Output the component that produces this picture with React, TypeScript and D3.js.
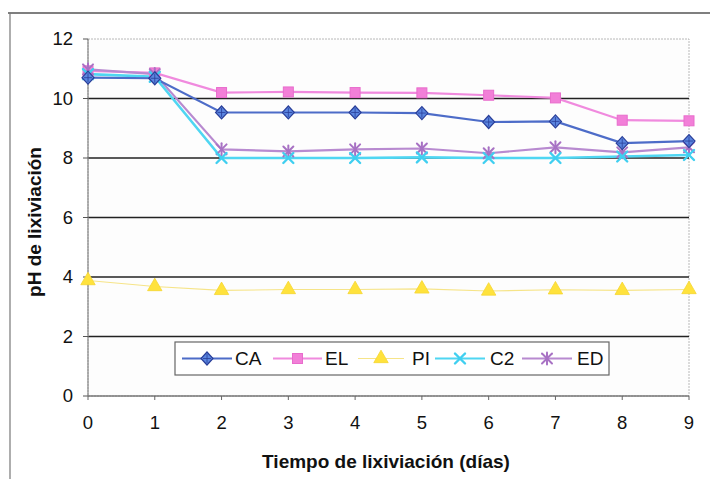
import React from "react";
import * as d3 from "d3";

// Leaching days on the x axis
const days = [0, 1, 2, 3, 4, 5, 6, 7, 8, 9];

// pH of the leachate for each material
const seriesCA = [10.7, 10.68, 9.53, 9.53, 9.53, 9.51, 9.21, 9.23, 8.5, 8.57];
const seriesEL = [10.93, 10.86, 10.2, 10.22, 10.2, 10.19, 10.11, 10.02, 9.27, 9.25];
const seriesPI = [3.88, 3.68, 3.55, 3.58, 3.58, 3.6, 3.53, 3.57, 3.55, 3.58];
const seriesC2 = [10.82, 10.73, 8.0, 8.0, 8.0, 8.02, 8.0, 8.0, 8.05, 8.1];
const seriesED = [10.98, 10.82, 8.29, 8.22, 8.29, 8.32, 8.16, 8.36, 8.19, 8.36];

const seriesNames = ["CA", "EL", "PI", "C2", "ED"];
const yTicks = [0, 2, 4, 6, 8, 10, 12];

const W = 710;
const H = 479;
const plot = { left: 88, right: 689, top: 39, bottom: 396 };

type Style = {
  line: string;
  lineWidth: number;
  marker: "diamond" | "square" | "triangle" | "x" | "star";
  fill: string;
  stroke: string;
};

const styles: Record<string, Style> = {
  CA: { line: "#4d6cc8", lineWidth: 2.2, marker: "diamond", fill: "#5b86e0", stroke: "#2a3f99" },
  EL: { line: "#f08ade", lineWidth: 2.2, marker: "square", fill: "#f27fd8", stroke: "#e86ccc" },
  PI: { line: "#f6e488", lineWidth: 1.1, marker: "triangle", fill: "#ffe23c", stroke: "#f5d630" },
  C2: { line: "#4fd6f2", lineWidth: 2.6, marker: "x", fill: "none", stroke: "#40cff0" },
  ED: { line: "#b88ad0", lineWidth: 2.2, marker: "star", fill: "none", stroke: "#a872c4" },
};

const data: Record<string, number[]> = {
  CA: seriesCA,
  EL: seriesEL,
  PI: seriesPI,
  C2: seriesC2,
  ED: seriesED,
};

function Marker({ kind, x, y, st }: { kind: Style["marker"]; x: number; y: number; st: Style }) {
  if (kind === "diamond") {
    return (
      <g>
        <path
          d={`M${x},${y - 6.5} L${x + 6},${y} L${x},${y + 6.5} L${x - 6},${y} Z`}
          fill={st.fill}
          stroke={st.stroke}
          strokeWidth={1.2}
        />
        <line x1={x - 4} x2={x + 4} y1={y} y2={y} stroke={st.stroke} strokeWidth={0.8} />
        <line x1={x} x2={x} y1={y - 4.5} y2={y + 4.5} stroke={st.stroke} strokeWidth={0.8} />
      </g>
    );
  }
  if (kind === "square") {
    return <rect x={x - 5} y={y - 5} width={10} height={10} fill={st.fill} stroke={st.stroke} strokeWidth={1} />;
  }
  if (kind === "triangle") {
    const p = d3.symbol().type(d3.symbolTriangle).size(90)();
    return <path d={p ?? ""} transform={`translate(${x},${y})`} fill={st.fill} stroke={st.stroke} strokeWidth={0.8} />;
  }
  if (kind === "x") {
    const r = 5;
    return (
      <g stroke={st.stroke} strokeWidth={2.4} strokeLinecap="round">
        <line x1={x - r} y1={y - r} x2={x + r} y2={y + r} />
        <line x1={x - r} y1={y + r} x2={x + r} y2={y - r} />
      </g>
    );
  }
  const r = 5;
  return (
    <g stroke={st.stroke} strokeWidth={2} strokeLinecap="round">
      <line x1={x - r} y1={y - r} x2={x + r} y2={y + r} />
      <line x1={x - r} y1={y + r} x2={x + r} y2={y - r} />
      <line x1={x} y1={y - r - 1} x2={x} y2={y + r + 1} />
    </g>
  );
}

export default function App() {
  const x = d3.scaleLinear().domain([0, 9]).range([plot.left, plot.right]);
  const y = d3.scaleLinear().domain([0, 12]).range([plot.bottom, plot.top]);
  const line = d3
    .line<number>()
    .x((_, i) => x(days[i]))
    .y((v) => y(v));

  const font = "'Liberation Sans', Arial, sans-serif";

  const legend = { x: 175, y: 342, w: 434, h: 33 };
  const legendItems = [
    { name: "CA", x0: 182, x1: 232, tx: 235 },
    { name: "EL", x0: 273, x1: 322, tx: 325 },
    { name: "PI", x0: 358, x1: 404, tx: 412 },
    { name: "C2", x0: 435, x1: 485, tx: 490 },
    { name: "ED", x0: 522, x1: 572, tx: 577 },
  ];

  return (
    <svg
      width={W}
      height={H}
      viewBox={`0 0 ${W} ${H}`}
      style={{ position: "absolute", left: 0, top: 0, background: "#fff" }}
      fontFamily={font}
    >
      {/* outer frame */}
      <line x1={8} y1={13} x2={W} y2={13} stroke="#555" strokeWidth={1.5} />
      <line x1={10} y1={13} x2={10} y2={H} stroke="#777" strokeWidth={1.2} />

      {/* plot area border */}
      <rect
        x={plot.left}
        y={plot.top}
        width={plot.right - plot.left}
        height={plot.bottom - plot.top}
        fill="#fdfdfd"
        stroke="#b8b8b8"
        strokeWidth={1}
        strokeDasharray="2 1"
      />

      {/* horizontal gridlines */}
      {yTicks
        .filter((t) => t > 0 && t < 12)
        .map((t) => (
          <line key={t} x1={plot.left} x2={plot.right} y1={y(t)} y2={y(t)} stroke="#222" strokeWidth={1.4} />
        ))}

      {/* y axis */}
      <line x1={plot.left} x2={plot.left} y1={plot.top} y2={plot.bottom} stroke="#888" strokeWidth={1.2} />
      {yTicks.map((t) => (
        <g key={t}>
          <line x1={plot.left - 5} x2={plot.left} y1={y(t)} y2={y(t)} stroke="#555" strokeWidth={1} />
          <text x={73} y={y(t)} dy="0.35em" textAnchor="end" fontSize={18.5} fill="#111">
            {t}
          </text>
        </g>
      ))}

      {/* x axis */}
      <line x1={plot.left} x2={plot.right} y1={plot.bottom} y2={plot.bottom} stroke="#777" strokeWidth={1.4} />
      {days.map((d) => (
        <g key={d}>
          <line x1={x(d)} x2={x(d)} y1={plot.bottom} y2={plot.bottom + 4} stroke="#666" strokeWidth={1} />
          <text x={x(d)} y={429} textAnchor="middle" fontSize={18.5} fill="#111">
            {d}
          </text>
        </g>
      ))}

      {/* series lines */}
      {["PI", "EL", "ED", "C2", "CA"].map((name) => (
        <path
          key={name}
          d={line(data[name]) ?? ""}
          fill="none"
          stroke={styles[name].line}
          strokeWidth={styles[name].lineWidth}
        />
      ))}

      {/* series markers */}
      {["PI", "EL", "ED", "C2", "CA"].map((name) => (
        <g key={name}>
          {data[name].map((v, i) => (
            <Marker key={i} kind={styles[name].marker} x={x(days[i])} y={y(v)} st={styles[name]} />
          ))}
        </g>
      ))}

      {/* legend */}
      <rect x={legend.x} y={legend.y} width={legend.w} height={legend.h} fill="#fff" stroke="#666" strokeWidth={1.2} />
      {legendItems.map((it) => {
        const st = styles[it.name];
        const cy = legend.y + legend.h / 2;
        return (
          <g key={it.name}>
            <line x1={it.x0} x2={it.x1} y1={cy} y2={cy} stroke={st.line} strokeWidth={Math.min(st.lineWidth, 1.8)} />
            <Marker kind={st.marker} x={(it.x0 + it.x1) / 2} y={cy} st={st} />
            <text x={it.tx} y={cy} dy="0.36em" fontSize={19} fill="#111">
              {it.name}
            </text>
          </g>
        );
      })}

      {/* axis titles */}
      <text x={386} y={468} textAnchor="middle" fontSize={19} fontWeight="bold" fill="#111">
        Tiempo de lixiviación (días)
      </text>
      <text
        transform={`translate(41,222) rotate(-90)`}
        textAnchor="middle"
        fontSize={19}
        fontWeight="bold"
        fill="#111"
      >
        pH de lixiviación
      </text>
    </svg>
  );
}
